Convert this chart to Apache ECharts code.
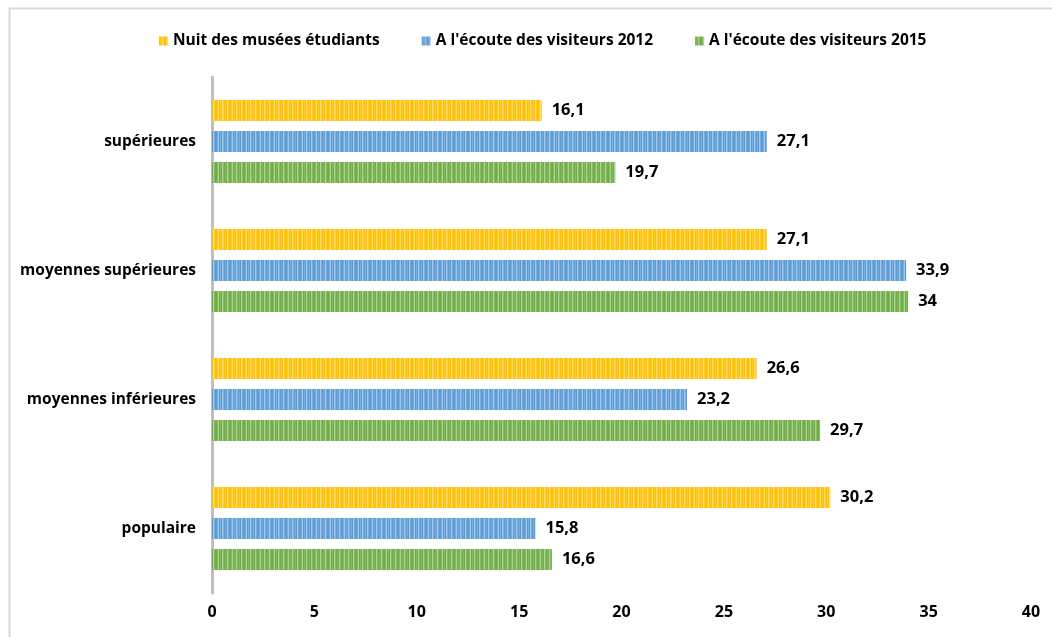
<!doctype html>
<html lang="fr">
<head>
	<meta charset="utf-8" />
	<script src="https://cdn.jsdelivr.net/npm/echarts@6/dist/echarts.min.js"></script>
	<style>
		html, body { margin: 0; padding: 0; background: #fff; }
	</style>
</head>
<body>
	<div id="main" style="width:1052px;height:637px;"></div>
	<script>
		var categories = ['supérieures', 'moyennes supérieures', 'moyennes inférieures', 'populaire'];
		var seriesNames = ['Nuit des musées étudiants', "A l'écoute des visiteurs 2012", "A l'écoute des visiteurs 2015"];
		var nuitValues = [16.1, 27.1, 26.6, 30.2];
		var ecoute2012Values = [27.1, 33.9, 23.2, 15.8];
		var ecoute2015Values = [19.7, 34, 29.7, 16.6];
		var xTicks = [0, 5, 10, 15, 20, 25, 30, 35, 40];

		// vertical stripe texture, like the office "pattern" fill
		function stripes(main, light, lighter) {
			var cols = [main, light, main, lighter, light, main, main, light, lighter, main, light, main, lighter, light];
			var c = document.createElement('canvas');
			c.width = cols.length;
			c.height = 4;
			var ctx = c.getContext('2d');
			cols.forEach(function (col, i) {
				ctx.fillStyle = col;
				ctx.fillRect(i, 0, 1, 4);
			});
			return { image: c, repeat: 'repeat' };
		}

		var fills = [
			stripes('#ffc000', '#ffcc33', '#ffdb77'),
			stripes('#5b9bd5', '#7aaedd', '#a6c8e8'),
			stripes('#70ad47', '#88bb66', '#afd295')
		];
		var allValues = [nuitValues, ecoute2012Values, ecoute2015Values];

		var myChart = echarts.init(document.getElementById('main'));
		var font = '"Open Sans", sans-serif';

		var option = {
			animation: false,
			textStyle: { fontFamily: font },
			graphic: [{
				type: 'rect',
				left: 7, top: 6,
				shape: { width: 1100, height: 700 },
				style: { fill: 'none', stroke: '#d9d9d9', lineWidth: 2 },
				silent: true
			}],
			legend: {
				top: 28,
				left: 154,
				itemWidth: 9,
				itemHeight: 9,
				itemGap: 42,
				icon: 'rect',
				textStyle: { fontFamily: font, fontWeight: 'bold', fontSize: 15.5, color: '#000' },
				data: seriesNames
			},
			grid: { left: 212, right: 21, top: 77, bottom: 44, containLabel: false },
			xAxis: {
				type: 'value',
				min: 0, max: 40, interval: 5,
				axisLine: { show: false },
				axisTick: { show: false },
				splitLine: { show: false },
				axisLabel: {
					margin: 11,
					fontFamily: font, fontWeight: 'bold', fontSize: 16, color: '#000',
					formatter: function (v) { return xTicks.indexOf(v) >= 0 ? String(v) : ''; }
				}
			},
			yAxis: {
				type: 'category',
				inverse: true,
				data: categories,
				axisLine: { show: true, lineStyle: { color: '#bfbfbf', width: 3 } },
				axisTick: { show: false },
				axisLabel: { margin: 16, fontFamily: font, fontWeight: 'bold', fontSize: 15.5, color: '#000' }
			},
			series: seriesNames.map(function (name, i) {
				return {
					name: name,
					type: 'bar',
					barWidth: 21,
					barGap: '48%',
					data: allValues[i],
					itemStyle: { color: fills[i] },
					label: {
						show: true,
						position: 'right',
						distance: 10,
						fontFamily: font, fontWeight: 'bold', fontSize: 16.5, color: '#000',
						formatter: function (p) { return String(p.value).replace('.', ','); }
					}
				};
			})
		};
		myChart.setOption(option);
	</script>
</body>
</html>
